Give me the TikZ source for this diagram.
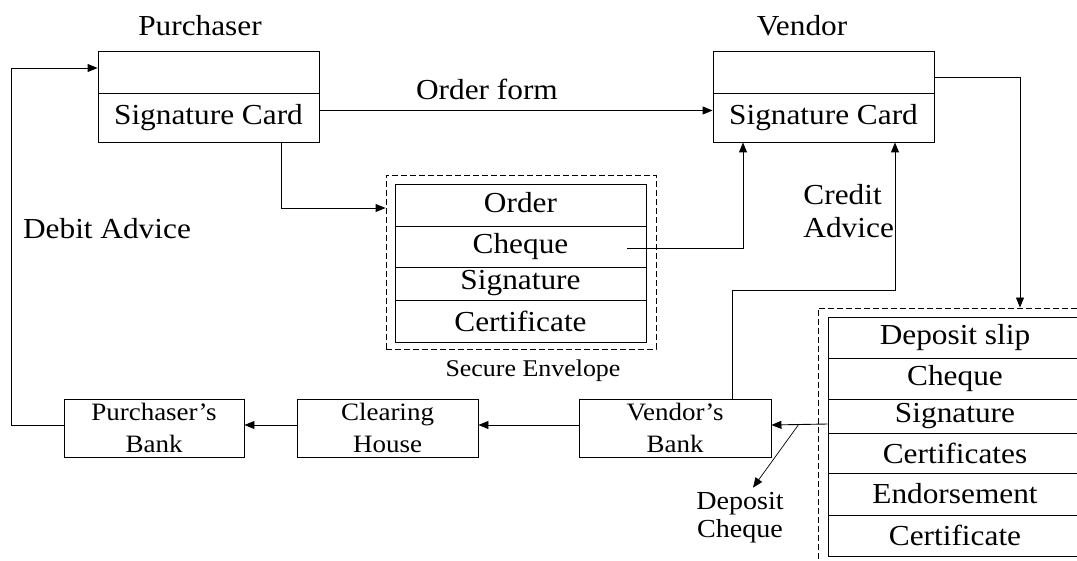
\documentclass[tikz,border=0pt]{standalone}
\usepackage{fontspec}
\setmainfont{Liberation Serif}[FakeStretch=1.08]
\usetikzlibrary{arrows.meta}
\begin{document}
\begin{tikzpicture}[x=1pt,y=-1pt,line width=0.9pt,
  cell/.style={draw,inner sep=0pt,align=center,font=\fontsize{29}{33}\selectfont},
  bankbox/.style={draw,inner sep=0pt,align=center,font=\fontsize{25}{32}\selectfont,minimum height=58pt},
  lbl/.style={inner sep=0pt,align=center,font=\fontsize{29}{33}\selectfont},
  envbox/.style={draw,dash pattern=on 6pt off 3pt,inner sep=0pt},
  arr/.style={-{Triangle[length=10pt,width=8pt]}}]
\useasboundingbox (0,0) rectangle (1077,561);
\clip (0,0) rectangle (1077,561);

% Purchaser
\node[lbl] (purLbl) at (200,26) {Purchaser};
\node[cell,minimum width=221pt,minimum height=42pt] (purTop) at (208.5,72) {};
\node[cell,minimum width=221pt,minimum height=49pt] (purSig) at (208.5,117.5) {Signature Card};

% Vendor
\node[lbl] (venLbl) at (802,26) {Vendor};
\node[cell,minimum width=221pt,minimum height=42pt] (venTop) at (823.5,72) {};
\node[cell,minimum width=221pt,minimum height=49pt] (venSig) at (823.5,117.5) {Signature Card};

\node[lbl] (orderLbl) at (487,89) {Order form};

% Secure envelope
\node[envbox,minimum width=270pt,minimum height=174pt] (envBox) at (521,262) {};
\node[cell,minimum width=251pt,minimum height=42pt] (envOrder) at (520.5,205) {\raisebox{6pt}{Order}};
\node[cell,minimum width=251pt,minimum height=41pt] (envCheque) at (520.5,246.5) {Cheque};
\node[cell,minimum width=251pt,minimum height=33pt] (envSig) at (520.5,283.5) {Signature};
\node[cell,minimum width=251pt,minimum height=42pt] (envCert) at (520.5,321) {Certificate};
\node[lbl,font=\fontsize{24}{28}\selectfont] (envLbl) at (533,371) {Secure Envelope};
\coordinate (chequeOut) at (627,248);

% Deposit bundle
\node[envbox,minimum width=282pt,minimum height=262pt] (depDash) at (959,439) {};
\node[cell,minimum width=254pt,minimum height=41pt] (depSlip) at (955,337.5) {Deposit slip};
\node[cell,minimum width=254pt,minimum height=41pt] (depCheque) at (955,378.5) {Cheque};
\node[cell,minimum width=254pt,minimum height=34pt] (depSig) at (955,416) {Signature};
\node[cell,minimum width=254pt,minimum height=40pt] (depCerts) at (955,453) {Certificates};
\node[cell,minimum width=254pt,minimum height=42pt] (depEnd) at (955,494) {Endorsement};
\node[cell,minimum width=254pt,minimum height=41pt] (depCert) at (955,535.5) {Certificate};

% Banks
\node[bankbox,minimum width=180pt] (purBank) at (154,428) {Purchaser’s\\Bank};
\node[bankbox,minimum width=181pt] (clearing) at (387.5,428) {Clearing\\House};
\node[bankbox,minimum width=192pt] (venBank) at (675,428) {Vendor’s\\Bank};

% Labels
\node[lbl] (debitLbl) at (107,229) {Debit Advice};
\node[lbl,anchor=west,align=left] (creditLbl) at (803,211.5) {Credit\\Advice};
\node[lbl,font=\fontsize{26}{28}\selectfont] (dcLbl) at (740,517.5) {Deposit\\Cheque};
\coordinate (split) at (799,424);

% Connectors
\draw[arr] ([yshift=3pt]purBank.west) -- ++(-52,0) |- ([yshift=4pt]purTop.west);
\draw[arr] ([yshift=7pt]purSig.east) -- ([yshift=7pt]venSig.west);
\draw[arr] ([xshift=72.5pt]purSig.south) |- ([yshift=54pt]envBox.west);
\draw[arr] (chequeOut) -| ([xshift=-80.5pt]venSig.south);
\draw[arr] ([yshift=-5pt]venTop.east) -| ([xshift=61pt]depDash.north);
\draw[arr] ([xshift=57pt]venBank.north) -- ++(0,-108) -| ([xshift=71.5pt]venSig.south);
\draw[arr] ([yshift=-8pt]depSig.west) -- ([yshift=3pt]venBank.east);
\draw[arr,line width=0.7pt] (split) -- ([xshift=13pt,yshift=4pt]dcLbl.north);
\draw[arr] ([yshift=3pt]venBank.west) -- ([yshift=3pt]clearing.east);
\draw[arr] ([yshift=3pt]clearing.west) -- ([yshift=3pt]purBank.east);
\end{tikzpicture}
\end{document}
